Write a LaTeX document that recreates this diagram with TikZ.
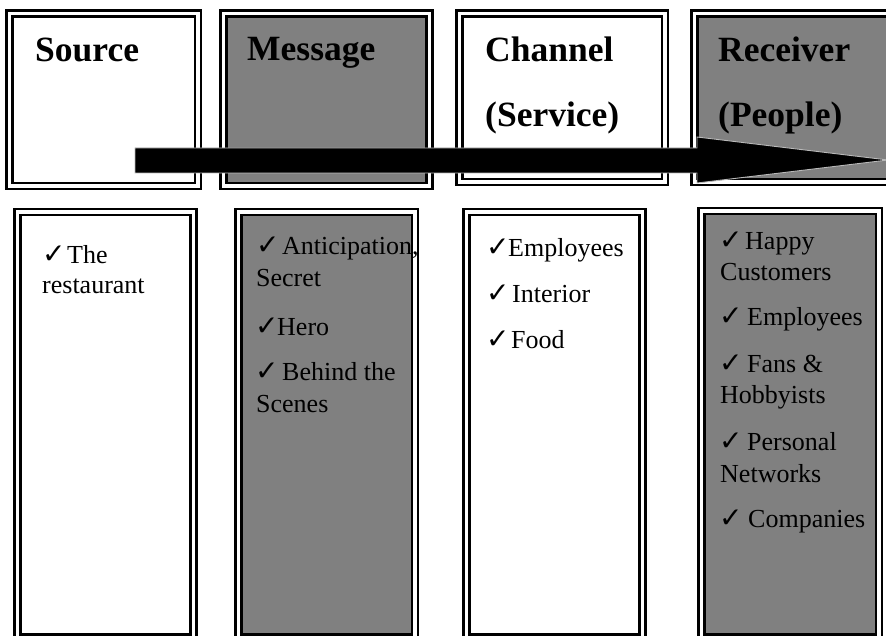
\documentclass[tikz,border=0pt]{standalone}
\usepackage{fontspec}
\setmainfont{Liberation Serif}
\newfontfamily\symfont{DejaVu Sans}
\definecolor{boxgrey}{HTML}{808080}
% double-ruled frame: outer rule, inner rule 6pt inside, optional fill
\newcommand{\dblframe}[5]{%
  \fill[fill=#5] (#1+6,#2+6) rectangle (#3-6,#4-6);
  \draw[frameline] (#1,#2) rectangle (#3,#4);
  \draw[frameline] (#1+6,#2+6) rectangle (#3-6,#4-6);
}
\begin{document}
\begin{tikzpicture}[x=1pt,y=-1pt,
  frameline/.style={draw=black,line width=2.8pt},
  head/.style={anchor=base west,inner sep=0pt,font=\fontsize{35.5}{40}\selectfont\bfseries},
  item/.style={anchor=base west,inner sep=0pt,font=\fontsize{26}{30}\selectfont},
  tick/.style={anchor=base west,inner sep=0pt,font=\symfont\fontsize{28}{30}\selectfont},
  flow/.style={fill=black,draw=gray!55,line width=0.9pt,line join=miter}]
\useasboundingbox (0,0) rectangle (886,636);
\clip (0,0) rectangle (886,636);

% header frames
\dblframe{6.5}{10.5}{201}{189}{white}
\dblframe{220.5}{10.5}{432.5}{189}{boxgrey}
\dblframe{456.5}{10.5}{668}{185}{white}
\dblframe{691.5}{10.5}{910}{185}{boxgrey}

% list frames
\dblframe{14.5}{209}{196.5}{640.5}{white}
\dblframe{235.5}{209}{418}{640.5}{boxgrey}
\dblframe{463.5}{209}{645.5}{640.5}{white}
\dblframe{698.5}{208}{882}{640.5}{boxgrey}

% headers
\node[head] (hsrc) at (35,62) {Source};
\node[head] (hmsg) at (247,61) {Message};
\node[head] (hch1) at (485,62) {Channel};
\node[head] (hch2) at (485,127) {(Service)};
\node[head] (hrc1) at (718,62) {Receiver};
\node[head] (hrc2) at (718,127) {(People)};

% flow arrow across the header row
\coordinate (tailtop) at (135,148);
\coordinate (tailbot) at (135,173);
\coordinate (necktop) at (697,148);
\coordinate (neckbot) at (697,173);
\coordinate (barbtop) at (697,137);
\coordinate (barbbot) at (697,183);
\coordinate (tip) at (888,160);
\draw[flow] (tailtop) -- (necktop) -- (barbtop) -- (tip) -- (barbbot) -- (neckbot) -- (tailbot) -- cycle;

% source list
\node[tick] (s1t) at (42,264) {✓};
\node[item] (s1) at (67,264) {The};
\node[item] (s1b) at (42,294) {restaurant};

% message list
\node[tick] (m1t) at (256,255) {✓};
\node[item] (m1) at (282,255) {Anticipation,};
\node[item] (m1b) at (256,287) {Secret};
\node[tick] (m2t) at (255,335) {✓};
\node[item] (m2) at (277,335) {Hero};
\node[tick] (m3t) at (255,380) {✓};
\node[item] (m3) at (282,380) {Behind the};
\node[item] (m3b) at (256,412) {Scenes};

% channel list
\node[tick] (c1t) at (486,257) {✓};
\node[item] (c1) at (508,257) {Employees};
\node[tick] (c2t) at (486,303) {✓};
\node[item] (c2) at (512,303) {Interior};
\node[tick] (c3t) at (486,348) {✓};
\node[item] (c3) at (511,348) {Food};

% receiver list
\node[tick] (r1t) at (719,250) {✓};
\node[item] (r1) at (745,250) {Happy};
\node[item] (r1b) at (720,280) {Customers};
\node[tick] (r2t) at (719,325) {✓};
\node[item] (r2) at (747,325) {Employees};
\node[tick] (r3t) at (719,372) {✓};
\node[item] (r3) at (747,372) {Fans \&};
\node[item] (r3b) at (720,403) {Hobbyists};
\node[tick] (r4t) at (719,450) {✓};
\node[item] (r4) at (747,450) {Personal};
\node[item] (r4b) at (720,482) {Networks};
\node[tick] (r5t) at (719,527) {✓};
\node[item] (r5) at (748,527) {Companies};
\end{tikzpicture}
\end{document}
